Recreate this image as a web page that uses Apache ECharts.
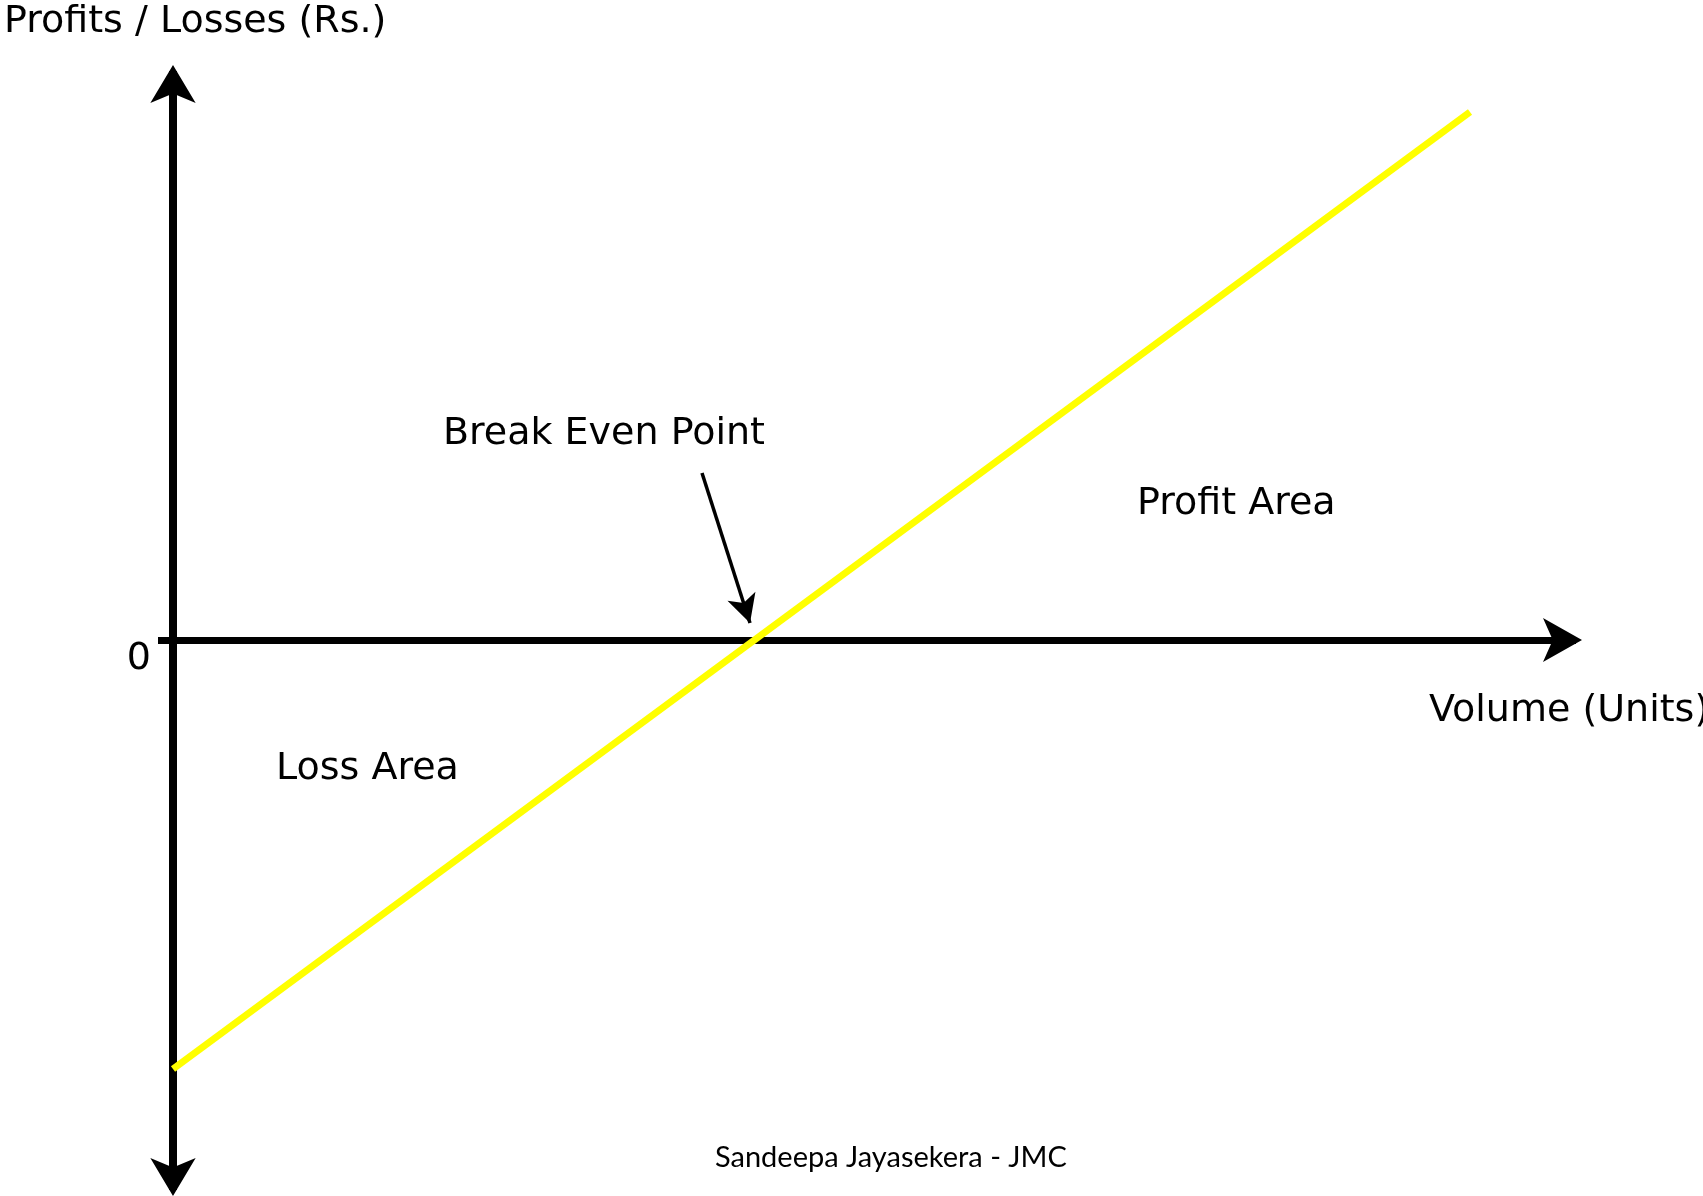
<!DOCTYPE html>
<html>
<head>
<meta charset="utf-8">
<script src="https://cdn.jsdelivr.net/npm/echarts@6/dist/echarts.min.js"></script>
<style>
html,body{margin:0;padding:0;background:#fff;}
#chart{width:1703px;height:1196px;}
</style>
</head>
<body>
<div id="chart"></div>
<script>
// ---- data ----
const volume = [0, 1297];            // units
const profit = [-429, 528];          // Rs.
const yTickLabels = [0];
const breakEvenArrowFrom = [529, 167];
const breakEvenArrowTo = [577, 17];
const xRange = [-15, 1403];
const yRange = [-550, 569];
const texts = {
  yName: 'Profits / Losses (Rs.)',
  xName: 'Volume (Units)',
  bep: 'Break Even Point',
  profitArea: 'Profit Area',
  lossArea: 'Loss Area',
  credit: 'Sandeepa Jayasekera - JMC'
};

const chart = echarts.init(document.getElementById('chart'), null, {renderer: 'canvas'});
const font = 'DejaVu Sans';
function txt(t, x, y, size, fam) {
  return {
    type: 'text', left: x, top: y, silent: true,
    style: {text: t, fontFamily: fam || font, fontSize: size, fill: '#000', verticalAlign: 'top'}
  };
}
chart.setOption({
  animation: false,
  backgroundColor: '#fff',
  grid: {left: 158, right: 127, top: 71, bottom: 6, containLabel: false},
  xAxis: {
    type: 'value', min: xRange[0], max: xRange[1],
    splitLine: {show: false}, axisTick: {show: false}, axisLabel: {show: false},
    axisLine: {onZero: true, lineStyle: {color: '#000', width: 7, cap: 'butt'},
      symbol: ['none', 'arrow'], symbolSize: [33, 39], symbolOffset: [0, 6]}
  },
  yAxis: {
    type: 'value', min: yRange[0], max: yRange[1],
    splitLine: {show: false}, axisTick: {show: false},
    axisLabel: {
      show: true, customValues: yTickLabels, margin: 7, verticalAlign: 'top',
      fontFamily: font, fontSize: 38, color: '#000'
    },
    axisLine: {onZero: true, lineStyle: {color: '#000', width: 8, cap: 'butt'},
      symbol: ['arrow', 'arrow'], symbolSize: [34, 38], symbolOffset: [-6, 6]}
  },
  series: [{
    type: 'line',
    data: volume.map((v, i) => [v, profit[i]]),
    symbol: 'none',
    lineStyle: {color: '#FFFF00', width: 7},
    silent: true,
    markLine: {
      silent: true, animation: false,
      symbol: ['none', 'arrow'], symbolSize: [22, 28],
      label: {show: false},
      lineStyle: {color: '#000', width: 3.5, type: 'solid'},
      data: [[{coord: breakEvenArrowFrom}, {coord: breakEvenArrowTo}]]
    }
  }],
  graphic: [
    txt(texts.yName, 4, 3, 38),
    txt(texts.bep, 443, 415, 38),
    txt(texts.profitArea, 1137, 485, 38),
    txt(texts.lossArea, 276, 750, 38),
    txt(texts.xName, 1429, 692, 38),
    txt(texts.credit, 715, 1143, 29, 'Lato')
  ]
});
</script>
</body>
</html>
